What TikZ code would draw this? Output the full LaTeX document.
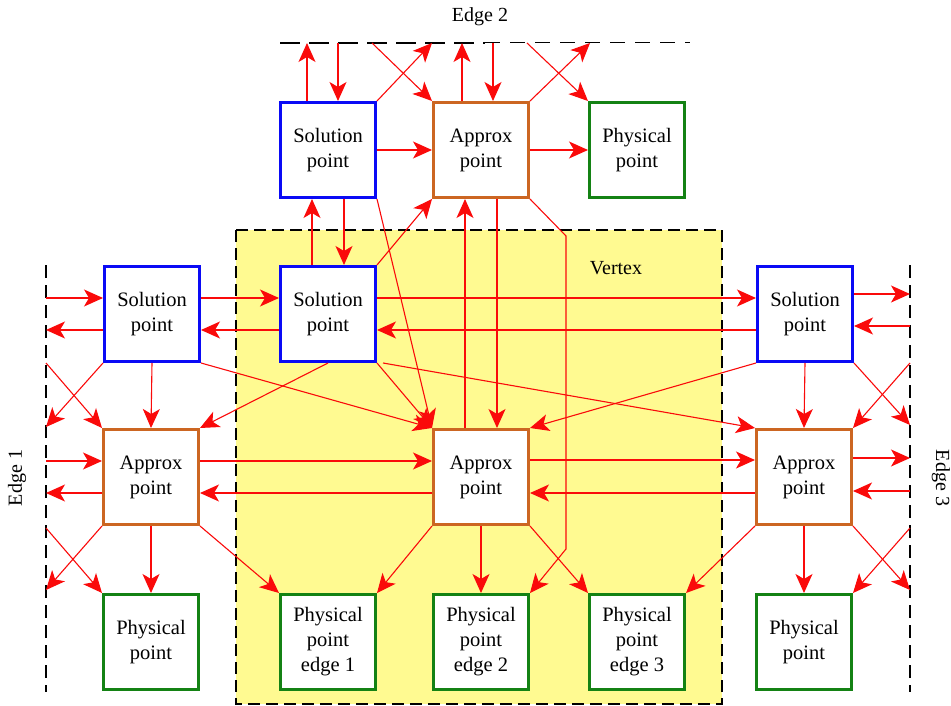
\documentclass[tikz,border=0pt]{standalone}
\usepackage{fontspec}
\setmainfont{Liberation Serif}
\usetikzlibrary{arrows.meta}
\definecolor{bxblue}{RGB}{10,10,245}
\definecolor{bxorange}{RGB}{204,102,34}
\definecolor{bxgreen}{RGB}{20,130,20}
\definecolor{vyellow}{RGB}{255,250,145}
\definecolor{arred}{RGB}{250,10,10}
\begin{document}
\begin{tikzpicture}[x=1pt,y=-1pt,
 box/.style={draw, line width=3pt, fill=white, minimum width=95pt, minimum height=95pt, inner sep=0pt, align=center, font=\fontsize{20.5}{25}\selectfont},
 sol/.style={box, draw=bxblue},
 apx/.style={box, draw=bxorange},
 phy/.style={box, draw=bxgreen},
 arr/.style={draw=arred, line width=1.1pt, -{Stealth[length=19pt,width=17pt,inset=5pt]}},
 edgeline/.style={draw=black, line width=1.4pt, dash pattern=on 13pt off 7pt},
 lbl/.style={font=\fontsize{20}{25}\selectfont}]
\useasboundingbox (0,0) rectangle (951,706);
% vertex region
\draw[fill=vyellow, line width=1.3pt, dash pattern=on 12pt off 6pt] (236,230) rectangle (722,704);
\node[lbl] (vlabel) at (616,268) {Vertex};
% edge lines
\draw[edgeline] (46,265) -- (46,692);
\draw[edgeline] (910,265) -- (910,692);
\draw[edgeline, dash pattern=on 20pt off 9pt] (280,43) -- (485,43);
\draw[edgeline, line width=1pt, dash pattern=on 15pt off 10pt] (485,43) -- (690,43);
\node[lbl] (e2label) at (480,17) {Edge 2};
\node[lbl, rotate=90] (e1label) at (17,478) {Edge 1};
\node[lbl, rotate=-90] (e3label) at (941,478) {Edge 3};
% boxes
\node[sol] (TS) at (328,150) {Solution\\point};
\node[apx] (TA) at (481,150) {Approx\\point};
\node[phy] (TP) at (637,150) {Physical\\point};
\node[sol] (LS) at (152,314) {Solution\\point};
\node[sol] (VS) at (328,314) {Solution\\point};
\node[sol] (RS) at (805,314) {Solution\\point};
\node[apx] (LA) at (151,477) {Approx\\point};
\node[apx] (CA) at (481,477) {Approx\\point};
\node[apx] (RA) at (804,477) {Approx\\point};
\node[phy] (LP) at (151,642) {Physical\\point};
\node[phy] (PE1) at (328,642) {Physical\\point\\edge 1};
\node[phy] (PE2) at (481,642) {Physical\\point\\edge 2};
\node[phy] (PE3) at (637,642) {Physical\\point\\edge 3};
\node[phy] (RP) at (804,642) {Physical\\point};
% edge coordinates
\coordinate (t1) at (307,43);
\coordinate (t2) at (338,43);
\coordinate (t3) at (432,43);
\coordinate (t4) at (372,43);
\coordinate (t5) at (462,43);
\coordinate (t6) at (493,43);
\coordinate (t7) at (590,43);
\coordinate (t8) at (527,43);
\coordinate (e1a) at (46,298);
\coordinate (e1b) at (46,330);
\coordinate (e1c) at (46,363);
\coordinate (e1d) at (46,427);
\coordinate (e1e) at (46,461);
\coordinate (e1f) at (46,493);
\coordinate (e1g) at (46,528);
\coordinate (e1h) at (46,590);
\coordinate (e3a) at (910,294);
\coordinate (e3b) at (910,326);
\coordinate (e3c) at (910,363);
\coordinate (e3d) at (910,425);
\coordinate (e3e) at (910,458);
\coordinate (e3f) at (910,491);
\coordinate (e3g) at (910,528);
\coordinate (e3h) at (910,590);
\coordinate (bend1) at (566,236);
\coordinate (bend2) at (566,549);
% top
\draw[arr] ([xshift=-21pt]TS.north) -- (t1);
\draw[arr] (t2) -- ([xshift=10pt]TS.north);
\draw[arr] (TS.north east) -- (t3);
\draw[arr] (t4) -- (TA.north west);
\draw[arr] ([xshift=-19pt]TA.north) -- (t5);
\draw[arr] (t6) -- ([xshift=12pt]TA.north);
\draw[arr] (TA.north east) -- (t7);
\draw[arr] (t8) -- (TP.north west);
\draw[arr] (TS.east) -- (TA.west);
\draw[arr] (TA.east) -- (TP.west);
% top to vertex
\draw[arr] ([xshift=-16pt]VS.north) -- ([xshift=-16pt]TS.south);
\draw[arr] ([xshift=16pt]TS.south) -- ([xshift=16pt]VS.north);
\draw[arr] (VS.north east) -- (TA.south west);
\draw[arr] (TS.south east) -- (CA.north west);
\draw[arr] ([xshift=-16pt]CA.north) -- ([xshift=-16pt]TA.south);
\draw[arr] ([xshift=16pt]TA.south) -- ([xshift=16pt]CA.north);
\draw[arr] (TA.south east) -- (bend1) -- (bend2) -- (PE2.north east);
% solution row
\draw[arr] (e1a) -- ([yshift=16pt]LS.west);
\draw[arr] ([yshift=-16pt]LS.west) -- (e1b);
\draw[arr] ([yshift=16pt]LS.east) -- ([yshift=16pt]VS.west);
\draw[arr] ([yshift=-16pt]VS.west) -- ([yshift=-16pt]LS.east);
\draw[arr] (LS.south west) -- (e1d);
\draw[arr] (e1c) -- (LA.north west);
\draw[arr] (LS.south) -- (LA.north);
\draw[arr] (LS.south east) -- (CA.north west);
\draw[arr] (VS.south) -- (LA.north east);
\draw[arr] (VS.south east) -- (CA.north west);
\draw[arr] ([xshift=6pt]VS.south east) -- (RA.north west);
\draw[arr] (RS.south west) -- (CA.north east);
\draw[arr] ([yshift=16pt]VS.east) -- ([yshift=16pt]RS.west);
\draw[arr] ([yshift=-16pt]RS.west) -- ([yshift=-16pt]VS.east);
\draw[arr] ([yshift=20pt]RS.east) -- (e3a);
\draw[arr] (e3b) -- ([yshift=-12pt]RS.east);
\draw[arr] (RS.south east) -- (e3d);
\draw[arr] (e3c) -- (RA.north east);
\draw[arr] (RS.south) -- (RA.north);
% approx row
\draw[arr] (e1e) -- ([yshift=16pt]LA.west);
\draw[arr] ([yshift=-16pt]LA.west) -- (e1f);
\draw[arr] ([yshift=16pt]LA.east) -- ([yshift=16pt]CA.west);
\draw[arr] ([yshift=-16pt]CA.west) -- ([yshift=-16pt]LA.east);
\draw[arr] ([yshift=17pt]CA.east) -- ([yshift=17pt]RA.west);
\draw[arr] ([yshift=-16pt]RA.west) -- ([yshift=-16pt]CA.east);
\draw[arr] ([yshift=19pt]RA.east) -- (e3e);
\draw[arr] (e3f) -- ([yshift=-14pt]RA.east);
% bottom
\draw[arr] (LA.south west) -- (e1h);
\draw[arr] (e1g) -- (LP.north west);
\draw[arr] (LA.south) -- (LP.north);
\draw[arr] (LA.south east) -- (PE1.north west);
\draw[arr] (CA.south west) -- (PE1.north east);
\draw[arr] (CA.south) -- (PE2.north);
\draw[arr] (CA.south east) -- (PE3.north west);
\draw[arr] (RA.south west) -- (PE3.north east);
\draw[arr] (RA.south) -- (RP.north);
\draw[arr] (RA.south east) -- (e3h);
\draw[arr] (e3g) -- (RP.north east);
\end{tikzpicture}
\end{document}
